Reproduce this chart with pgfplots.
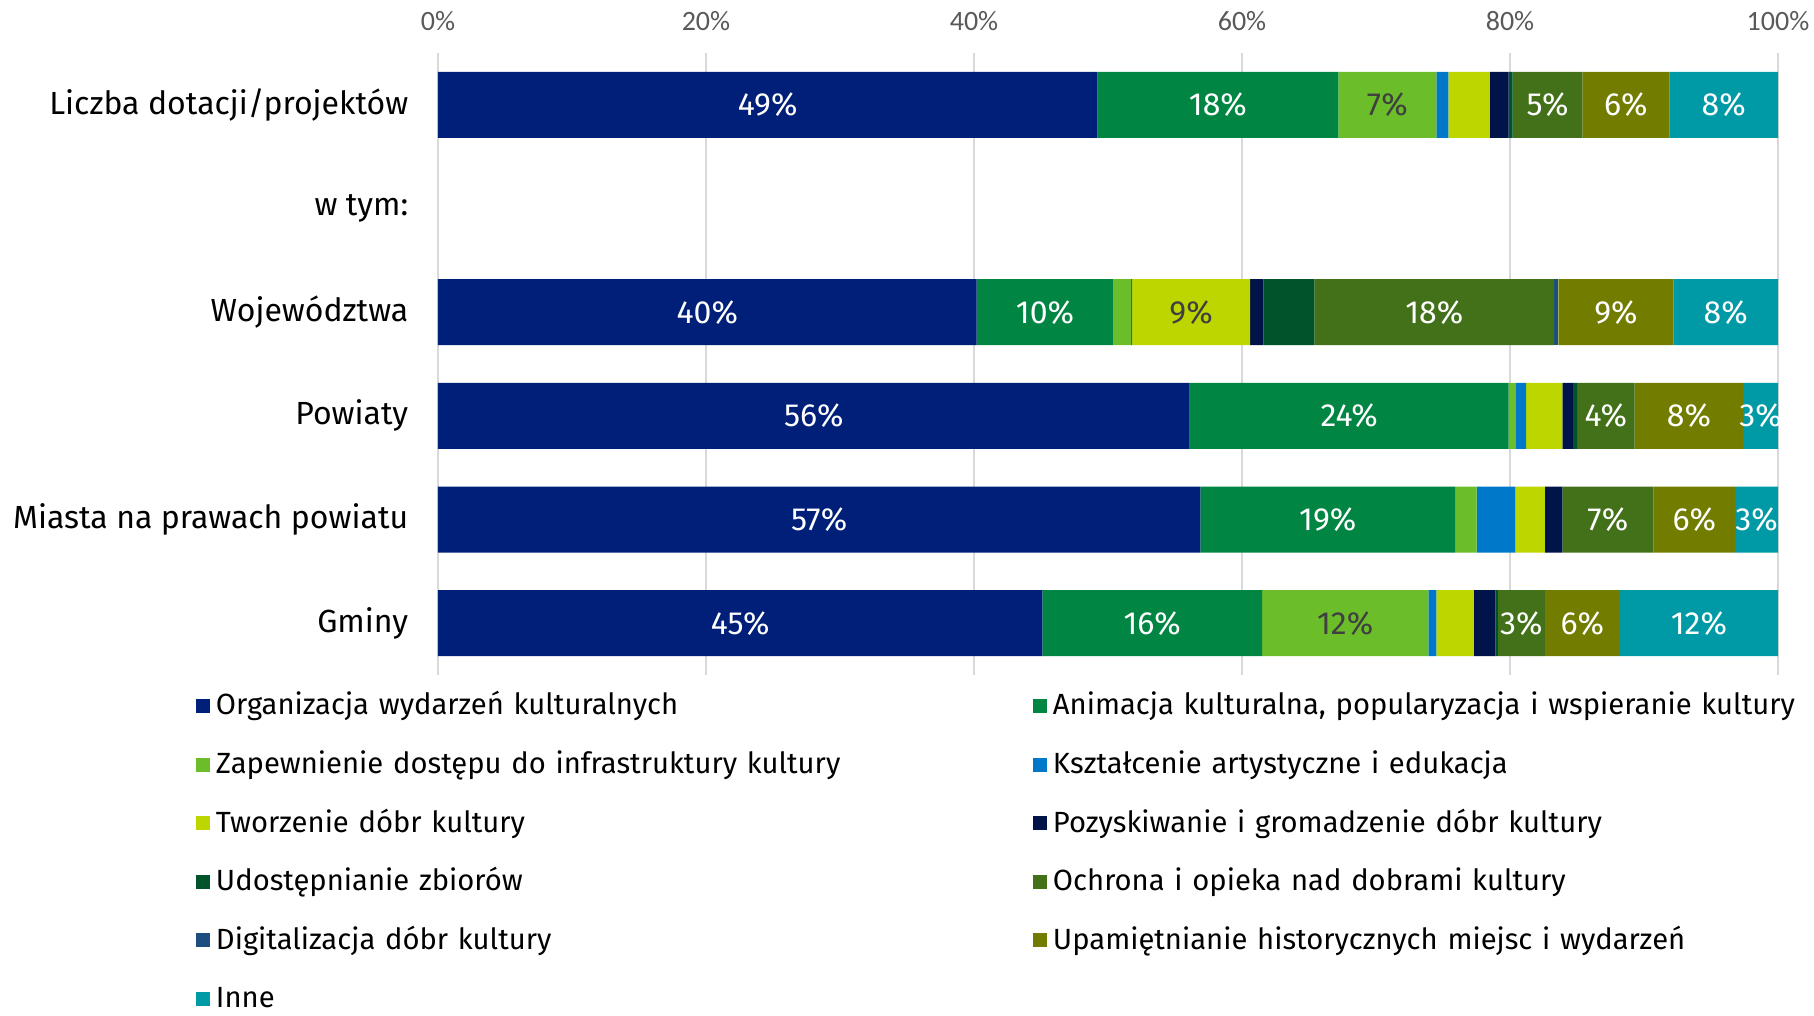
\documentclass[border=0pt]{standalone}
\usepackage{fontspec}
\setmainfont{Fira Sans}
\newfontfamily\tickfont{Carlito}
\usepackage{pgfplots}
\pgfplotsset{compat=1.18}

\definecolor{cOrg}{HTML}{001F78}
\definecolor{cAnim}{HTML}{008542}
\definecolor{cZap}{HTML}{6BBE2A}
\definecolor{cKszt}{HTML}{0078C9}
\definecolor{cTwor}{HTML}{BED600}
\definecolor{cPoz}{HTML}{001449}
\definecolor{cUdo}{HTML}{00532B}
\definecolor{cOchr}{HTML}{42711A}
\definecolor{cDig}{HTML}{1C4E80}
\definecolor{cUpa}{HTML}{727D00}
\definecolor{cInne}{HTML}{009AA6}
\definecolor{tickgray}{HTML}{595959}
\definecolor{gridgray}{HTML}{D9D9D9}
\definecolor{darklab}{HTML}{404040}

% segment label: meta = rounded value shown in the bar (0 = no label)
\pgfplotsset{
  seg/.style={fill=#1, draw=none},
  darklabels/.style={every node near coord/.append style={text=darklab}},
}

\begin{document}
\begin{tikzpicture}
% page = 1814 x 1016 px at 0.5pt/px, axis box at (0,0)-(670pt,311pt)
\path[use as bounding box] (-219pt,-170.5pt) rectangle (688pt,337.5pt);

\begin{axis}[
  at={(0pt,0pt)}, anchor=south west,
  width=670pt,
  height=311pt,
  scale only axis,
  xbar stacked,
  bar width=33pt,
  xmin=0, xmax=100,
  ymin=-0.5, ymax=5.5,
  y dir=reverse,
  xtick={0,20,40,60,80,100},
  xticklabels={0\%,20\%,40\%,60\%,80\%,100\%},
  xticklabel pos=upper,
  xticklabel style={font=\tickfont\fontsize{14}{16}\selectfont, text=tickgray, anchor=south, inner sep=0pt, yshift=11pt},
  ytick={0,1,2,3,4,5},
  yticklabels={Liczba dotacji/projektów, w tym:, Województwa, Powiaty, Miasta na prawach powiatu, Gminy},
  yticklabel style={font=\fontsize{16}{19}\selectfont, anchor=east, inner sep=0pt, xshift=-14.7pt},
  xmajorgrids,
  major grid style={gridgray, line width=0.9pt},
  axis line style={draw=none},
  major tick style={draw=none},
  point meta=explicit symbolic,
  nodes near coords={\ifnum\pgfplotspointmeta>0 \pgfplotspointmeta\%\fi},
  every node near coord/.append style={anchor=center, text=white, font=\fontsize{16}{19}\selectfont},
  legend columns=2,
  legend cell align=left,
  legend style={
    draw=none, fill=none, inner sep=0pt, outer sep=0pt,
    at={(-0.1806,-0.0288)}, anchor=north west,
    font=\fontsize{14.6}{17}\selectfont,
    row sep=16.3pt,
    nodes={inner sep=0pt, text height=11pt, text depth=2pt, text width=408.5pt, align=left},
    /tikz/every odd column/.style={column sep=3pt},
  },
  legend image code/.code={\fill[#1] (0pt,-3.5pt) rectangle (7pt,3.5pt);},
]
\addplot[seg=cOrg] coordinates {(49.2,0) [49] (40.2,2) [40] (56.1,3) [56] (56.9,4) [57] (45.1,5) [45]};
\addlegendentry{Organizacja wydarzeń kulturalnych}
\addplot[seg=cAnim] coordinates {(18.0,0) [18] (10.2,2) [10] (23.8,3) [24] (19.0,4) [19] (16.4,5) [16]};
\addlegendentry{Animacja kulturalna, popularyzacja i wspieranie kultury}
\addplot[seg=cZap, darklabels] coordinates {(7.3,0) [7] (1.3,2) [0] (0.5,3) [0] (1.6,4) [0] (12.4,5) [12]};
\addlegendentry{Zapewnienie dostępu do infrastruktury kultury}
\addplot[seg=cKszt] coordinates {(0.9,0) [0] (0.1,2) [0] (0.8,3) [0] (2.9,4) [0] (0.6,5) [0]};
\addlegendentry{Kształcenie artystyczne i edukacja}
\addplot[seg=cTwor, darklabels] coordinates {(3.1,0) [0] (8.8,2) [9] (2.7,3) [0] (2.2,4) [0] (2.8,5) [0]};
\addlegendentry{Tworzenie dóbr kultury}
\addplot[seg=cPoz] coordinates {(1.4,0) [0] (1.0,2) [0] (0.8,3) [0] (1.3,4) [0] (1.6,5) [0]};
\addlegendentry{Pozyskiwanie i gromadzenie dóbr kultury}
\addplot[seg=cUdo] coordinates {(0.3,0) [0] (3.8,2) [0] (0.3,3) [0] (0.0,4) [0] (0.2,5) [0]};
\addlegendentry{Udostępnianie zbiorów}
\addplot[seg=cOchr] coordinates {(5.2,0) [5] (17.9,2) [18] (4.3,3) [4] (6.8,4) [7] (3.5,5) [3]};
\addlegendentry{Ochrona i opieka nad dobrami kultury}
\addplot[seg=cDig] coordinates {(0.0,0) [0] (0.3,2) [0] (0.0,3) [0] (0.0,4) [0] (0.0,5) [0]};
\addlegendentry{Digitalizacja dóbr kultury}
\addplot[seg=cUpa] coordinates {(6.5,0) [6] (8.6,2) [9] (8.1,3) [8] (6.1,4) [6] (5.6,5) [6]};
\addlegendentry{Upamiętnianie historycznych miejsc i wydarzeń}
\addplot[seg=cInne] coordinates {(8.1,0) [8] (7.8,2) [8] (2.6,3) [3] (3.2,4) [3] (11.8,5) [12]};
\addlegendentry{Inne}
\end{axis}
\end{tikzpicture}
\end{document}
